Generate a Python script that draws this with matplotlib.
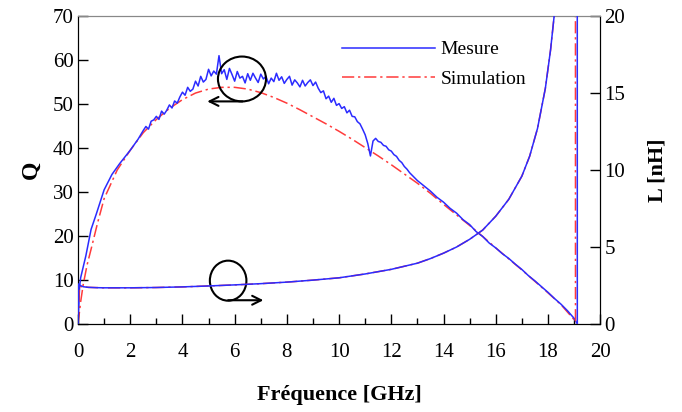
import numpy as np
import matplotlib
matplotlib.use("Agg")
import matplotlib.pyplot as plt
from matplotlib.patches import Ellipse

plt.rcParams["font.family"] = ["Liberation Serif", "DejaVu Serif"]

# Q mesuré (GHz, Q)
f_q_mes = [0.0, 0.03, 0.06, 0.1, 0.2, 0.3, 0.5, 0.7, 1.0, 1.3, 1.6, 2.0, 2.3,
           2.5, 2.6, 2.7, 2.8, 2.9, 3.0, 3.1, 3.2, 3.3, 3.4, 3.5, 3.6, 3.7, 3.8, 3.9,
           4.0, 4.1, 4.2, 4.3, 4.4, 4.5, 4.6, 4.7, 4.8, 4.9, 5.0, 5.1, 5.2, 5.3, 5.4,
           5.5, 5.6, 5.7, 5.8, 5.9, 6.0, 6.1, 6.2, 6.3, 6.4, 6.5, 6.6, 6.7, 6.8, 6.9,
           7.0, 7.1, 7.2, 7.3, 7.4, 7.5, 7.6, 7.7, 7.8, 7.9, 8.0, 8.1, 8.2, 8.3, 8.4,
           8.5, 8.6, 8.7, 8.8, 8.9, 9.0, 9.1, 9.2, 9.3, 9.4, 9.5, 9.6, 9.7, 9.8, 9.9,
           10.0, 10.1, 10.2, 10.3, 10.4, 10.5, 10.6, 10.7, 10.8, 10.9, 11.0, 11.1,
           11.2, 11.3, 11.4, 11.5, 11.6, 11.7, 11.8, 11.9, 12.0, 12.1, 12.2, 12.3,
           12.4, 12.5, 12.6, 12.7, 12.8, 12.9, 13.0,
           13.25, 13.5, 13.75, 14.0, 14.25, 14.5, 14.75, 15.0, 15.25, 15.5, 15.75,
           16.0, 16.25, 16.5, 16.75, 17.0, 17.25, 17.5, 17.75, 18.0, 18.25, 18.5,
           18.75, 19.0, 19.1]
q_mes = [0.0, 4.0, 8.5, 10.5, 13.0, 15.5, 21.5, 25.0, 30.5, 34.0, 36.5, 39.5, 42.0,
         44.0, 44.9, 44.3, 46.1, 46.4, 47.2, 46.5, 48.4, 47.7, 48.6, 49.8, 49.1, 50.7, 50.2, 51.6,
         52.7, 52.0, 53.8, 52.9, 53.4, 55.2, 54.1, 56.3, 55.0, 55.6, 57.9, 56.4, 57.5, 56.8, 61.0,
         56.9, 57.8, 55.6, 58.1, 56.7, 55.2, 57.4, 55.9, 56.3, 54.8, 56.9, 55.4, 57.0, 55.9, 54.9,
         56.8, 55.7, 56.3, 54.6, 55.9, 55.1, 57.0, 55.4, 56.2, 54.7, 55.6, 56.3, 54.3, 55.5, 54.8,
         53.9, 55.4, 54.1, 54.9, 55.5, 54.2, 55.0, 53.6, 52.6, 53.0, 51.2, 51.8, 50.4, 51.3, 49.7,
         50.1, 49.0, 49.4, 48.0, 48.6, 47.2, 47.1, 46.0, 45.5, 44.3, 43.0, 41.0,
         38.2, 41.6, 42.2, 41.5, 41.3, 40.6, 40.4, 39.6, 39.3, 38.5, 38.1, 37.2,
         36.7, 35.8, 35.2, 34.4, 33.8, 33.2, 32.6,
         31.4, 30.2, 28.8, 27.7, 26.3, 25.2, 23.7, 22.6, 21.0, 19.9, 18.4,
         17.3, 16.0, 14.9, 13.6, 12.4, 11.0, 9.8, 8.5, 7.2, 5.8, 4.5,
         3.0, 1.3, 0.3]

# Q simulé
f_q_sim = [0.0, 0.1, 0.2, 0.35, 0.5, 0.75, 1.0, 1.5, 2.0, 2.5, 3.0, 3.5, 4.0, 4.5,
           5.0, 5.5, 6.0, 6.5, 7.0, 7.5, 8.0, 8.5, 9.0, 9.5, 10.0, 10.5, 11.0, 11.5,
           12.0, 12.5, 13.0, 13.5, 14.0, 14.5, 15.0, 15.5, 16.0, 16.5, 17.0, 17.5,
           18.0, 18.5, 19.0, 19.1]
q_sim = [0.0, 5.0, 9.0, 13.5, 17.0, 23.0, 28.5, 35.0, 39.5, 43.5, 46.5, 49.0, 51.0, 52.5,
         53.4, 53.8, 53.8, 53.4, 52.6, 51.5, 50.2, 48.7, 47.1, 45.5, 43.8, 42.0, 40.1, 38.2,
         36.2, 34.1, 32.0, 29.7, 27.2, 24.8, 22.4, 19.9, 17.3, 14.8, 12.3, 9.7,
         7.1, 4.4, 1.0, 0.2]

# L mesurée (nH)
f_l_mes = [0.0, 0.02, 0.08, 0.2, 0.4, 0.7, 1.0, 2.0, 3.0, 4.0, 5.0, 6.0, 7.0, 8.0,
           9.0, 10.0, 11.0, 12.0, 13.0, 13.5, 14.0, 14.5, 15.0, 15.5, 16.0, 16.5,
           17.0, 17.3, 17.6, 17.9, 18.1, 18.3, 18.5, 19.12, 19.13]
l_mes = [0.0, 2.6, 2.5, 2.42, 2.38, 2.36, 2.35, 2.35, 2.37, 2.41, 2.47, 2.54, 2.62, 2.72,
         2.85, 3.0, 3.25, 3.55, 3.95, 4.25, 4.6, 5.0, 5.5, 6.1, 7.0, 8.1,
         9.6, 10.9, 12.7, 15.3, 17.8, 21.0, 25.0, 80.0, -80.0]

# L simulée (nH)
f_l_sim = [0.0, 0.05, 0.15, 0.4, 1.0, 2.0, 3.0, 4.0, 5.0, 6.0, 7.0, 8.0, 9.0, 10.0,
           11.0, 12.0, 13.0, 13.5, 14.0, 14.5, 15.0, 15.5, 16.0, 16.5, 17.0, 17.3,
           17.6, 17.9, 18.1, 18.3, 18.5, 19.05, 19.06]
l_sim = [0.0, 2.45, 2.42, 2.38, 2.35, 2.35, 2.37, 2.41, 2.47, 2.54, 2.62, 2.72, 2.85, 3.0,
         3.25, 3.55, 3.95, 4.25, 4.6, 5.0, 5.5, 6.1, 7.0, 8.1, 9.6, 10.9,
         12.7, 15.3, 17.8, 21.0, 25.0, 80.0, -80.0]

BLUE = "#2b2bff"
RED = "#ff3b3b"
DASHDOT = (0, (8, 2.5, 1.5, 2.5))

fig = plt.figure(figsize=(6.82, 4.12), dpi=100)
ax1 = fig.add_axes([0.1144, 0.2136, 0.7656, 0.7474])
ax2 = ax1.twinx()

ax1.plot(f_q_sim, q_sim, color=RED, lw=1.1, ls=DASHDOT, label="Simulation", zorder=2)
ax1.plot(f_q_mes, q_mes, color=BLUE, lw=1.1, label="Mesure", zorder=3)
ax2.plot(f_l_sim, l_sim, color=RED, lw=1.1, ls=DASHDOT, zorder=2)
ax2.plot(f_l_mes, l_mes, color=BLUE, lw=1.1, zorder=3)

ax1.set_xlim(0, 20)
ax1.set_ylim(0, 70)
ax2.set_ylim(0, 20)
ax1.set_xticks(np.arange(0, 21, 2))
ax1.set_xticks(np.arange(0, 21, 1), minor=True)
ax1.set_yticks(np.arange(0, 71, 10))
ax2.set_yticks(np.arange(0, 21, 5))

for ax in (ax1, ax2):
    ax.tick_params(which="major", direction="in", length=7, width=1.0,
                   labelsize=15, pad=3)
    ax.tick_params(which="minor", direction="in", length=4, width=1.0)
ax1.tick_params(axis="x", pad=14)
ax1.spines["top"].set_color("#888888")
ax2.spines["top"].set_color("#888888")

ax1.set_xlabel("Fréquence [GHz]", fontsize=16, fontweight="bold", labelpad=16)
ax1.set_ylabel("Q", fontsize=17, fontweight="bold", labelpad=8)
ax2.set_ylabel("L [nH]", fontsize=16, fontweight="bold", labelpad=16)

# annotations (cercles + flèches)
ax1.add_patch(Ellipse((6.28, 55.7), 1.84, 10.2, fill=False, ec="black", lw=1.5, zorder=5))
ax1.annotate("", xy=(4.95, 50.6), xytext=(6.3, 50.6),
             arrowprops=dict(arrowstyle="->", color="black", lw=1.5,
                             mutation_scale=16, shrinkA=0, shrinkB=0), zorder=5)
ax1.add_patch(Ellipse((5.75, 9.85), 1.4, 9.1, fill=False, ec="black", lw=1.5, zorder=5))
ax1.annotate("", xy=(7.1, 5.4), xytext=(5.75, 5.4),
             arrowprops=dict(arrowstyle="->", color="black", lw=1.5,
                             mutation_scale=16, shrinkA=0, shrinkB=0), zorder=5)

h, l = ax1.get_legend_handles_labels()
ax1.legend(h[::-1], l[::-1], loc="upper left", bbox_to_anchor=(0.49, 0.945),
           frameon=False, fontsize=14, handlelength=4.8, handletextpad=0.3,
           labelspacing=0.6, borderaxespad=0)

fig.savefig("out.png", dpi=100)
